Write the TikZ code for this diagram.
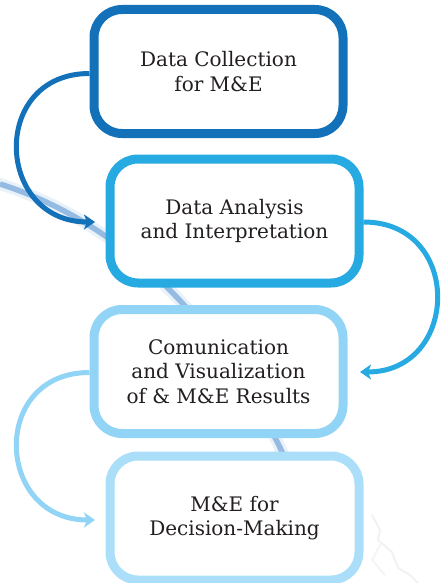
\documentclass[tikz,border=0pt]{standalone}
\usepackage{fontspec}
\setmainfont{DejaVu Serif}
\usetikzlibrary{arrows.meta}
\definecolor{cA}{HTML}{1271B9}
\definecolor{cB}{HTML}{27AAE1}
\definecolor{cC}{HTML}{92D4F6}
\definecolor{cD}{HTML}{ABDEF8}
\definecolor{swoosh}{HTML}{5E98D4}
\definecolor{ink}{HTML}{231F20}
\tikzset{
  stepbox/.style={draw, fill=white, line width=9pt, rounded corners=28pt,
    minimum width=249pt, minimum height=124pt, align=center, inner sep=0pt,
    font=\fontsize{20}{24.5}\selectfont, text=ink},
  flowarrow/.style={line width=5pt, -{Stealth[length=11pt,width=15pt,inset=3pt]}},
}
\begin{document}
\begin{tikzpicture}[x=1pt,y=-1pt]
\useasboundingbox (0,0) rectangle (442,583);
% background swoosh
\draw[swoosh!30, line width=12pt, line cap=round, opacity=0.45] (0,184) .. controls (120,222) and (220,320) .. (285,458);
\draw[swoosh, line width=5.5pt, opacity=0.6] (0,184) .. controls (120,222) and (220,320) .. (285,458);
% faint sketch lower right
\draw[black!5, line width=2pt, line cap=round, line join=round] (372,515) -- (380,530) -- (378,540) -- (392,552) -- (398,568) -- (410,575) -- (418,583);
\draw[black!4, line width=2pt, line cap=round] (380,545) -- (372,560) -- (385,575);
% boxes
\node[stepbox, draw=cA] (b1) at (218.5,71.5) {Data Collection\\for M\&E};
\node[stepbox, draw=cB] (b2) at (234.5,221) {Data Analysis\\and Interpretation};
\node[stepbox, draw=cC] (b3) at (218.5,371.5) {Comunication\\and Visualization\\of \& M\&E Results};
\node[stepbox, draw=cD] (b4) at (234.5,518) {M\&E for\\Decision-Making};
% arrows
\coordinate (t1) at (95,222);
\coordinate (t2) at (360,372);
\coordinate (t3) at (95,520);
\draw[flowarrow, cA] ([yshift=-2pt]b1.west) .. controls +(-100,0) and +(-100,0) .. (t1);
\draw[flowarrow, cB] ([yshift=-1pt]b2.east) .. controls +(100,0) and +(100,0) .. (t2);
\draw[flowarrow, cC] ([yshift=-1pt]b3.west) .. controls +(-100,0) and +(-100,0) .. (t3);
\end{tikzpicture}
\end{document}
